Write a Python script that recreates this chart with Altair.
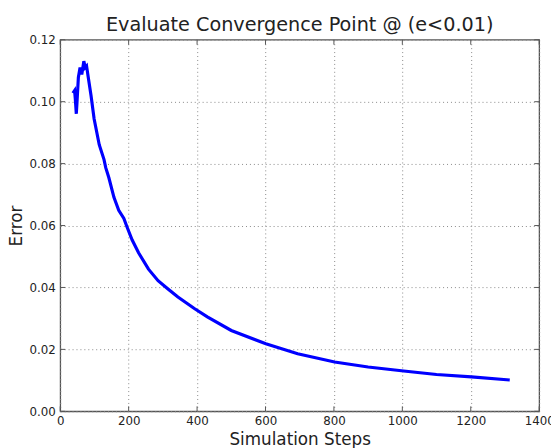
import altair as alt
import pandas as pd

steps = [37, 42, 44, 47, 49, 53, 58, 63, 69, 73, 77, 82, 90, 99, 114, 128, 133, 142,
         157, 171, 186, 195, 210, 229, 258, 286, 315, 344, 392, 430, 500, 601, 694,
         802, 900, 1004, 1100, 1202, 1314]
errors = [0.1028, 0.1036, 0.1010, 0.0961, 0.0998, 0.1078, 0.1110, 0.1088, 0.1131,
          0.1110, 0.1115, 0.1078, 0.1020, 0.0945, 0.0861, 0.0813, 0.0787, 0.0755,
          0.0691, 0.0649, 0.0623, 0.0596, 0.0554, 0.0512, 0.0459, 0.0422, 0.0395,
          0.0369, 0.0332, 0.0305, 0.0261, 0.0218, 0.0186, 0.0159, 0.0143, 0.0130,
          0.0119, 0.0111, 0.0101]

x_ticks = [0, 200, 400, 600, 800, 1000, 1200, 1400]
y_ticks = [0.00, 0.02, 0.04, 0.06, 0.08, 0.10, 0.12]

W, H = 486, 377
TL = 5
FONT = "DejaVu Sans"
TXT = "#222"
GRID = "#888"

df = pd.DataFrame({"step": steps, "error": errors})
xt = pd.DataFrame({"t": x_ticks})
yt = pd.DataFrame({"t": y_ticks})

xscale = alt.Scale(domain=[0, 1400], nice=False, zero=False)
yscale = alt.Scale(domain=[0, 0.12], nice=False, zero=False)

common = dict(grid=True, gridDash=[1, 3], gridColor=GRID, gridWidth=1,
              ticks=False, domain=False, labelFont=FONT, labelFontSize=12,
              labelColor=TXT, titleFont=FONT, titleFontSize=17,
              titleFontWeight="normal", titleColor=TXT, labelFlush=False)

line = alt.Chart(df).mark_line(color="#0000ff", strokeWidth=3.2, clip=True).encode(
    x=alt.X("step:Q", scale=xscale,
            axis=alt.Axis(values=x_ticks, title="Simulation Steps", format="d",
                          labelPadding=4, titlePadding=6, **common)),
    y=alt.Y("error:Q", scale=yscale,
            axis=alt.Axis(values=y_ticks, title="Error", format=".2f",
                          labelPadding=5, titlePadding=4, **common)),
)

xb = alt.Chart(xt).mark_rule(color="#555", strokeWidth=1).encode(
    x=alt.X("t:Q", scale=xscale), y=alt.value(H), y2=alt.value(H - TL))
xtop = alt.Chart(xt).mark_rule(color="#555", strokeWidth=1).encode(
    x=alt.X("t:Q", scale=xscale), y=alt.value(0), y2=alt.value(TL))
yl = alt.Chart(yt).mark_rule(color="#555", strokeWidth=1).encode(
    y=alt.Y("t:Q", scale=yscale), x=alt.value(0), x2=alt.value(TL))
yr = alt.Chart(yt).mark_rule(color="#555", strokeWidth=1).encode(
    y=alt.Y("t:Q", scale=yscale), x=alt.value(W), x2=alt.value(W - TL))

chart = alt.layer(line, xb, xtop, yl, yr).properties(
    width=W, height=H,
    title=alt.TitleParams("Evaluate Convergence Point @ (e<0.01)", font=FONT,
                          fontSize=19.5, fontWeight="normal", color=TXT,
                          anchor="middle", offset=-2),
    autosize=alt.AutoSizeParams(type="none"),
    padding={"left": 53, "top": 29, "right": 12, "bottom": 34},
).configure_view(stroke="#555", strokeWidth=1.3)

chart.save("out.html", embed_options={"renderer": "svg", "actions": False})
